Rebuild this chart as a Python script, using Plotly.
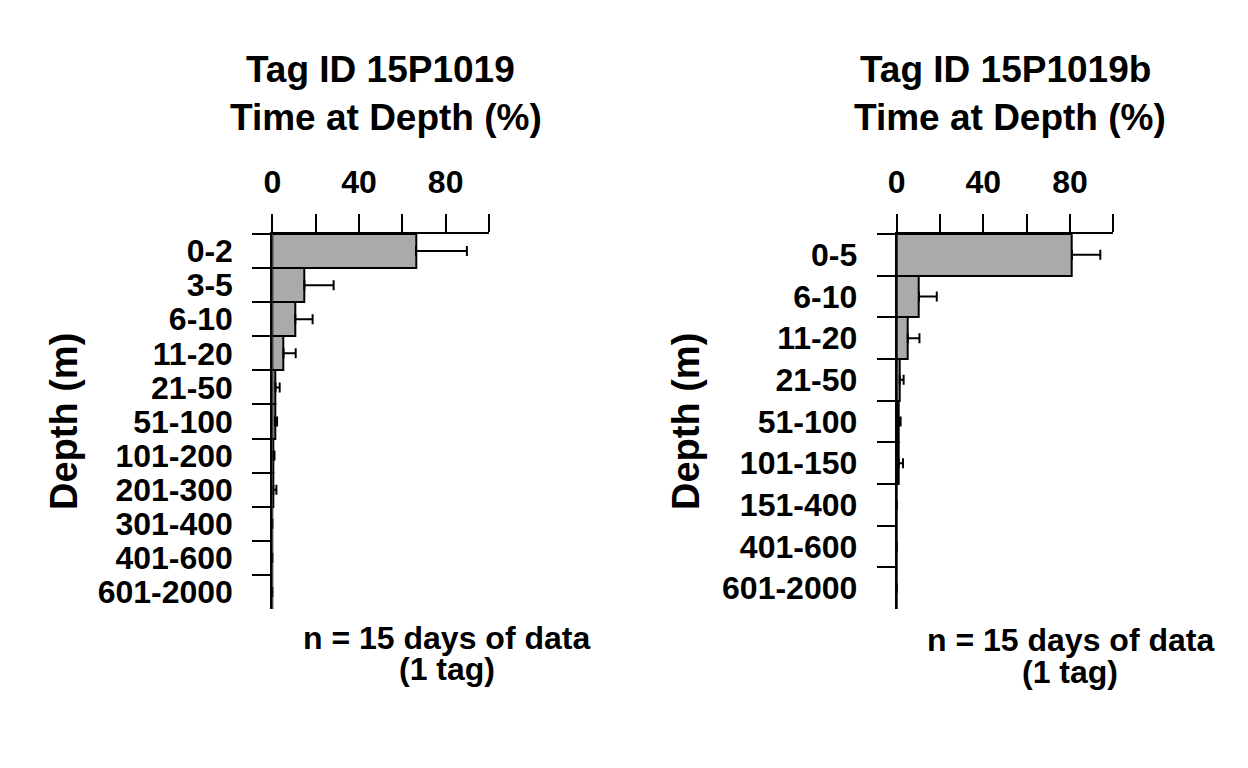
import plotly.graph_objects as go

W, H = 1248, 768

# ---- data ----
left_cats = ["0-2", "3-5", "6-10", "11-20", "21-50", "51-100", "101-200",
             "201-300", "301-400", "401-600", "601-2000"]
left_vals = [66.3, 14.8, 10.6, 5.2, 1.5, 1.2, 0.5, 0.5, 0, 0, 0]
left_errs = [23.5, 13.5, 8.0, 5.6, 1.9, 1.0, 0.5, 1.4, 0, 0, 0]

right_cats = ["0-5", "6-10", "11-20", "21-50", "51-100", "101-150",
              "151-400", "401-600", "601-2000"]
right_vals = [80.9, 10.3, 5.1, 1.4, 0.9, 0.9, 0, 0, 0]
right_errs = [13.1, 8.2, 5.4, 1.8, 0.9, 2.0, 0, 0, 0]

x_tickvals = [0, 20, 40, 60, 80, 100]
x_ticktext = ["0", "", "40", "", "80", ""]

titles = ["Tag ID 15P1019", "Tag ID 15P1019b"]
subtitle = "Time at Depth (%)"
ylabel = "Depth (m)"
note1 = "n = 15 days of data"
note2 = "(1 tag)"

FONT = "Liberation Sans, Arial, Helvetica, sans-serif"
OFF = 8  # page body margin


def px(x):
    return (x - OFF) / W


def py(y):
    return 1 - (y - OFF) / H


fig = go.Figure()

for i, (cats, vals, errs) in enumerate([(left_cats, left_vals, left_errs),
                                         (right_cats, right_vals, right_errs)]):
    sfx = "" if i == 0 else "2"
    fig.add_trace(go.Bar(
        y=cats, x=vals, orientation="h",
        xaxis="x" + sfx, yaxis="y" + sfx,
        marker=dict(color="#aaaaaa", line=dict(color="black", width=2)),
        error_x=dict(type="data", array=errs, arrayminus=[0] * len(errs),
                     symmetric=False, color="black", thickness=2, width=5),
        showlegend=False,
    ))

x_domains = [[px(272.3), px(489.0)], [px(896.7), px(1113.3)]]
y_domain = [py(609), py(234)]

common_x = dict(
    range=[0, 100], side="top", showgrid=False, zeroline=False,
    showline=True, linecolor="black", linewidth=2,
    ticks="outside", ticklen=18, tickwidth=2, tickcolor="black",
    tickvals=x_tickvals, ticktext=x_ticktext,
    tickfont=dict(family=FONT, size=32, color="black", weight=700),
    ticklabelstandoff=8, automargin=False,
)

layout = dict(
    width=W, height=H,
    margin=dict(l=0, r=0, t=0, b=0, autoexpand=False),
    paper_bgcolor="white", plot_bgcolor="white",
    bargap=0,
    font=dict(family=FONT, color="black"),
)

for i, cats in enumerate([left_cats, right_cats]):
    sfx = "" if i == 0 else "2"
    xa = dict(common_x, domain=x_domains[i], anchor="y" + sfx)
    ya = dict(
        domain=y_domain, anchor="x" + sfx, type="category",
        categoryorder="array", categoryarray=cats,
        range=[len(cats) - 0.5, -0.5],
        tickmode="linear", tick0=0, dtick=1,
        showgrid=False, zeroline=False,
        showline=True, linecolor="black", linewidth=2,
        ticks="outside", ticklen=18, tickwidth=2, tickcolor="black",
        tickson="boundaries",
        tickfont=dict(family=FONT, size=32, color="black", weight=700),
        ticklabelstandoff=31, automargin=False,
    )
    layout["xaxis" + sfx] = xa
    layout["yaxis" + sfx] = ya

fig.update_layout(**layout)

anns = []
centers = [(272.3 + 489.0) / 2, (896.7 + 1113.3) / 2]
ylab_x = [64, 686]
note_x = [446.7, 1070]
note_y = [(638, 669), (640, 672)]
for i in range(2):
    c = centers[i]
    anns.append(dict(text=titles[i], x=px(c), y=py(70), xref="paper", yref="paper",
                     xanchor="center", yanchor="middle", showarrow=False,
                     font=dict(family=FONT, size=37, color="black", weight=700)))
    anns.append(dict(text=subtitle, x=px(c + 5), y=py(117), xref="paper", yref="paper",
                     xanchor="center", yanchor="middle", showarrow=False,
                     font=dict(family=FONT, size=37, color="black", weight=700)))
    anns.append(dict(text=ylabel, x=px(ylab_x[i]), y=py(422), xref="paper", yref="paper",
                     xanchor="center", yanchor="middle", showarrow=False, textangle=-90,
                     font=dict(family=FONT, size=38, color="black", weight=700)))
    anns.append(dict(text=note1, x=px(note_x[i]), y=py(note_y[i][0]), xref="paper", yref="paper",
                     xanchor="center", yanchor="middle", showarrow=False,
                     font=dict(family=FONT, size=32, color="black", weight=700)))
    anns.append(dict(text=note2, x=px(note_x[i]), y=py(note_y[i][1]), xref="paper", yref="paper",
                     xanchor="center", yanchor="middle", showarrow=False,
                     font=dict(family=FONT, size=32, color="black", weight=700)))

fig.update_layout(annotations=anns)

fig.write_html("out.html")
